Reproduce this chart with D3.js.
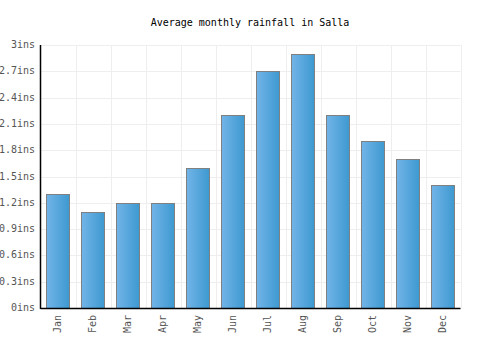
<!DOCTYPE html>
<html>
<head>
<meta charset="utf-8">
<script src="https://cdn.jsdelivr.net/npm/d3@7"></script>
<style>
  body { margin: 0; background: #fff; }
  text { font-family: "DejaVu Sans Mono", "Liberation Mono", monospace; }
</style>
</head>
<body>
<div id="general"></div>
<script>
const months = ["Jan", "Feb", "Mar", "Apr", "May", "Jun", "Jul", "Aug", "Sep", "Oct", "Nov", "Dec"];
const rainfall = [1.3, 1.1, 1.2, 1.2, 1.6, 2.2, 2.7, 2.9, 2.2, 1.9, 1.7, 1.4];
const yTicks = [0, 0.3, 0.6, 0.9, 1.2, 1.5, 1.8, 2.1, 2.4, 2.7, 3];
const title = "Average monthly rainfall in Salla";

const w = 500, h = 350;
const m = { l: 40.5, r: 39.5, t: 45, b: 42 };

const svg = d3.select("#general").append("svg").attr("width", w).attr("height", h);

const defs = svg.append("defs");
const grad = defs.append("linearGradient").attr("id", "bargrad")
  .attr("x1", "0%").attr("x2", "100%").attr("y1", "0%").attr("y2", "0%");
grad.append("stop").attr("offset", "0%").attr("stop-color", "#72b4e8");
grad.append("stop").attr("offset", "100%").attr("stop-color", "#3d99d0");

const x = d3.scaleBand().domain(months).range([m.l, w - m.r]).paddingInner(0).paddingOuter(0);
const y = d3.scaleLinear().domain([0, 3]).range([h - m.b, m.t]);

// grid
const grid = svg.append("g").attr("stroke", "#eeeeee").attr("stroke-width", 1);
grid.selectAll("line.h").data(yTicks).join("line")
  .attr("x1", m.l).attr("x2", w - m.r)
  .attr("y1", d => Math.round(y(d)) + 0.5).attr("y2", d => Math.round(y(d)) + 0.5);
grid.selectAll("line.v").data(months).join("line")
  .attr("x1", d => Math.round(x(d) + x.bandwidth()) + 0.5)
  .attr("x2", d => Math.round(x(d) + x.bandwidth()) + 0.5)
  .attr("y1", m.t).attr("y2", h - m.b);

// bars
const bw = x.bandwidth() * 2 / 3;
svg.append("g").selectAll("rect").data(rainfall).join("rect")
  .attr("x", (d, i) => Math.round(x(months[i]) + (x.bandwidth() - bw) / 2) + 0.5)
  .attr("y", d => Math.round(y(d)) + 0.5)
  .attr("width", Math.round(bw))
  .attr("height", d => Math.round(y(0)) - Math.round(y(d)))
  .attr("fill", "url(#bargrad)")
  .attr("stroke", "#808080")
  .attr("stroke-width", 1);

// axes lines
svg.append("line").attr("x1", m.l).attr("x2", m.l).attr("y1", m.t).attr("y2", Math.round(y(0)) + 1)
  .attr("stroke", "#000").attr("stroke-width", 1.5);
svg.append("line").attr("x1", m.l).attr("x2", w - m.r).attr("y1", Math.round(y(0)) + 0.5).attr("y2", Math.round(y(0)) + 0.5)
  .attr("stroke", "#000").attr("stroke-width", 1.5);

// y tick labels
svg.append("g").selectAll("text").data(yTicks).join("text")
  .attr("x", 35).attr("y", d => y(d))
  .attr("text-anchor", "end").attr("dominant-baseline", "middle")
  .attr("font-size", 10).attr("fill", "#555")
  .text(d => d + "ins");

// x labels
svg.append("g").selectAll("text").data(months).join("text")
  .attr("transform", d => `translate(${x(d) + x.bandwidth() / 2},${y(0) + 7}) rotate(-90)`)
  .attr("text-anchor", "end").attr("dominant-baseline", "middle")
  .attr("font-size", 10).attr("fill", "#555")
  .text(d => d);

// title
svg.append("text").attr("x", 250).attr("y", 26).attr("text-anchor", "middle")
  .attr("font-size", 10).attr("fill", "#000")
  .text(title);
</script>
</body>
</html>
